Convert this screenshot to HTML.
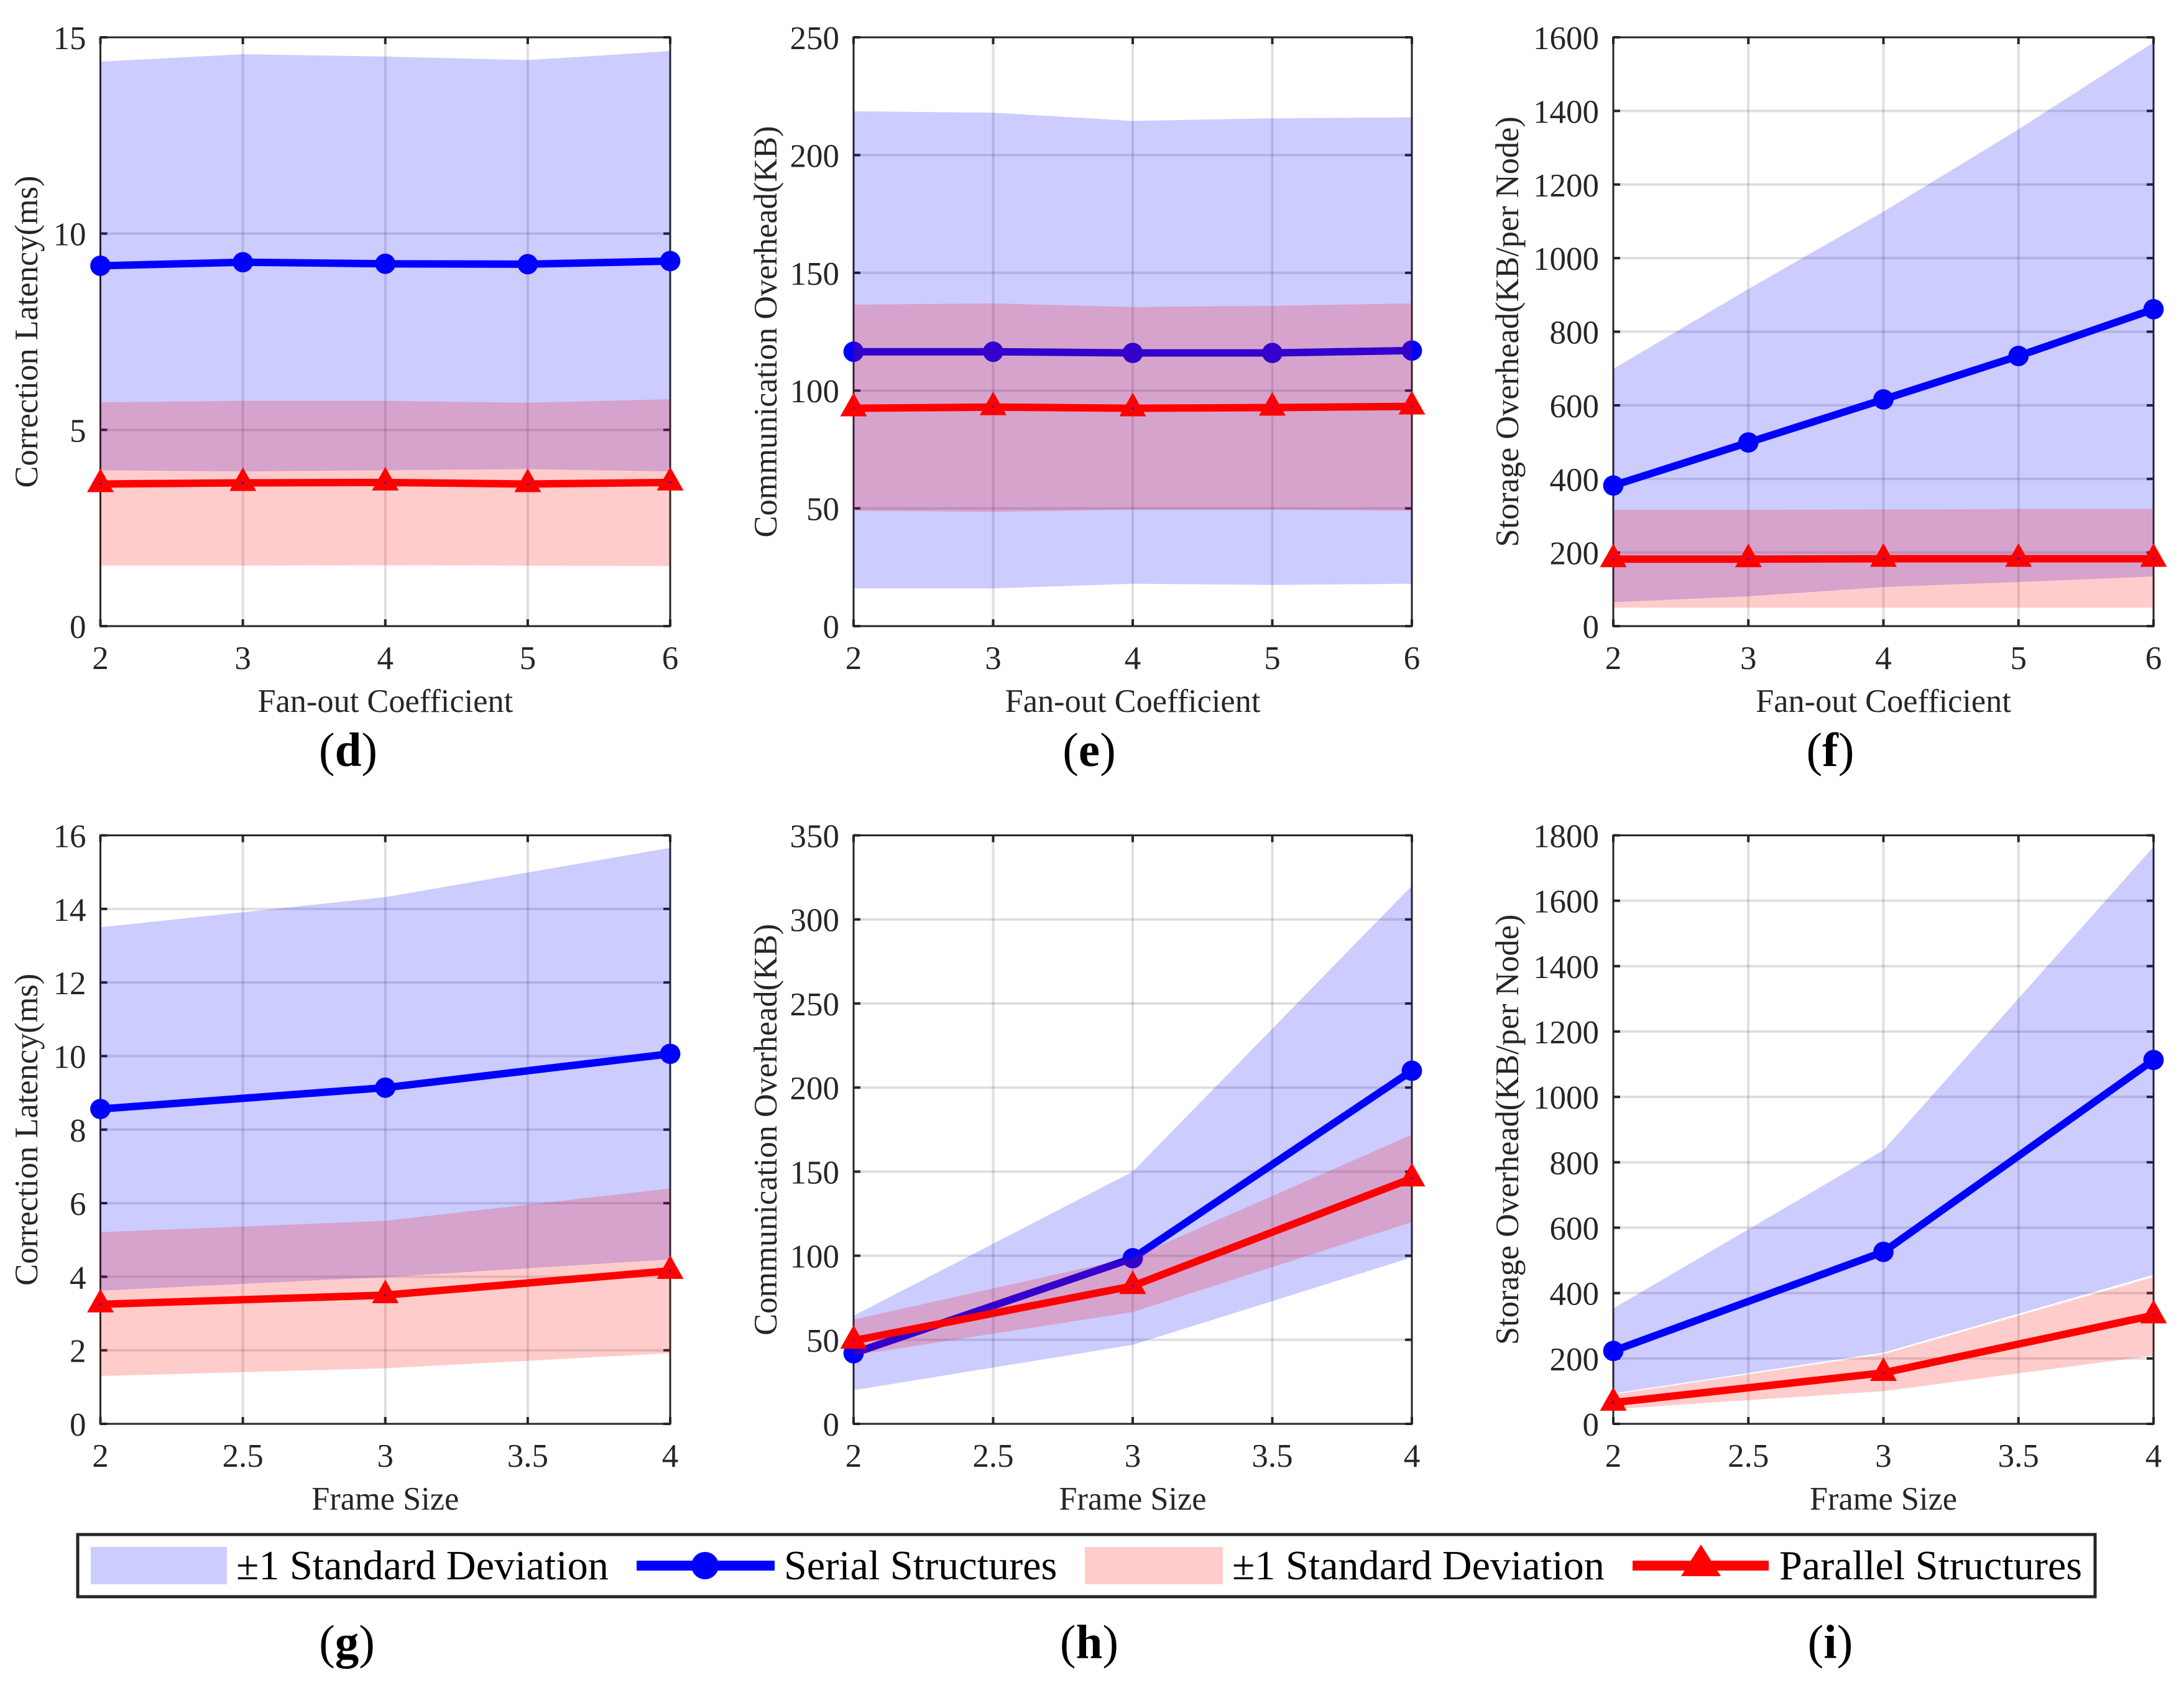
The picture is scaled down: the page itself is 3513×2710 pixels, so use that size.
<!DOCTYPE html>
<html lang="en">
<head>
<meta charset="utf-8">
<title>Serial vs Parallel Structures</title>
<style>
html,body{margin:0;padding:0;background:#fff;}
svg{display:block;font-family:"Liberation Serif",serif;}
</style>
</head>
<body>
<svg id="figure" xmlns="http://www.w3.org/2000/svg" width="3513" height="2710" viewBox="0 0 3513 2710">
<rect x="0" y="0" width="3513" height="2710" fill="#fff"/>
<g id="panels"></g>
<g font-size="77" fill="#000" text-anchor="middle">
<text x="560" y="1232">(<tspan font-weight="bold">d</tspan>)</text>
<text x="1752" y="1232">(<tspan font-weight="bold">e</tspan>)</text>
<text x="2944" y="1232">(<tspan font-weight="bold">f</tspan>)</text>
<text x="558" y="2667">(<tspan font-weight="bold">g</tspan>)</text>
<text x="1752" y="2667">(<tspan font-weight="bold">h</tspan>)</text>
<text x="2944" y="2667">(<tspan font-weight="bold">i</tspan>)</text>
</g>
<g>
<rect x="125" y="2468" width="3245" height="100" fill="#fff" stroke="#262626" stroke-width="5"/>
<rect x="146" y="2488" width="219" height="60" fill="#ccccff"/>
<text x="380" y="2540" font-size="66.2" fill="#000">±1 Standard Deviation</text>
<line x1="1024" y1="2518" x2="1246" y2="2518" stroke="#0000ff" stroke-width="16"/>
<circle cx="1134" cy="2518" r="22" fill="#0000ff"/>
<text x="1261" y="2540" font-size="66.2" fill="#000">Serial Structures</text>
<rect x="1745" y="2488" width="222" height="60" fill="#ffcccc"/>
<text x="1982" y="2540" font-size="66.2" fill="#000">±1 Standard Deviation</text>
<line x1="2626" y1="2518" x2="2845" y2="2518" stroke="#ff0000" stroke-width="16"/>
<polygon points="2736,2484 2768,2535 2704,2535" fill="#ff0000"/>
<text x="2862" y="2540" font-size="66.2" fill="#000">Parallel Structures</text>
</g>
</svg>
<script>
// ---------- chart data ----------
const fanoutCategories = [2, 3, 4, 5, 6];
const frameCategories = [2, 3, 4];
const fanoutXTicks = [2, 3, 4, 5, 6];
const frameXTicks = [2, 2.5, 3, 3.5, 4];

const dYTicks = [0, 5, 10, 15];
const dSerialMean = [9.18, 9.27, 9.23, 9.22, 9.30];
const dSerialUpper = [14.38, 14.57, 14.51, 14.42, 14.65];
const dSerialLower = [3.97, 3.94, 3.97, 4.00, 3.94];
const dParallelMean = [3.62, 3.65, 3.66, 3.62, 3.66];
const dParallelUpper = [5.70, 5.74, 5.74, 5.69, 5.78];
const dParallelLower = [1.54, 1.54, 1.55, 1.54, 1.53];

const eYTicks = [0, 50, 100, 150, 200, 250];
const eSerialMean = [116.5, 116.5, 116, 116, 117];
const eSerialUpper = [218.6, 218, 214.5, 215.6, 216];
const eSerialLower = [16, 16, 18, 17.5, 18];
const eParallelMean = [92.5, 93, 92.5, 92.8, 93.3];
const eParallelUpper = [136.5, 137, 135.5, 136, 137];
const eParallelLower = [49, 48.5, 49.5, 49.5, 49];

const fYTicks = [0, 200, 400, 600, 800, 1000, 1200, 1400, 1600];
const fSerialMean = [382, 499, 616, 734, 861];
const fSerialUpper = [699, 916, 1126, 1350, 1586];
const fSerialLower = [65, 81, 106, 120, 135];
const fParallelMean = [182, 182, 183, 183, 183];
const fParallelUpper = [316, 316, 317, 318, 318];
const fParallelLower = [50, 50, 50, 50, 50];

const gYTicks = [0, 2, 4, 6, 8, 10, 12, 14, 16];
const gSerialMean = [8.56, 9.14, 10.06];
const gSerialUpper = [13.5, 14.32, 15.66];
const gSerialLower = [3.62, 3.99, 4.47];
const gParallelMean = [3.25, 3.5, 4.16];
const gParallelUpper = [5.21, 5.52, 6.4];
const gParallelLower = [1.3, 1.51, 1.92];

const hYTicks = [0, 50, 100, 150, 200, 250, 300, 350];
const hSerialMean = [42, 98.5, 210];
const hSerialUpper = [64.3, 150, 320];
const hSerialLower = [20, 47, 99];
const hParallelMean = [49.5, 82, 146];
const hParallelUpper = [62, 99, 172];
const hParallelLower = [40.7, 66.5, 120];

const iYTicks = [0, 200, 400, 600, 800, 1000, 1200, 1400, 1600, 1800];
const iSerialMean = [223, 526, 1113];
const iSerialUpper = [353, 837, 1765];
const iSerialLower = [93, 218, 456];
const iParallelMean = [65, 156, 332];
const iParallelUpper = [90, 213, 449];
const iParallelLower = [45, 100, 209];

// ---------- rendering ----------
const SVGNS = 'http://www.w3.org/2000/svg';
const INK = '#262626';

function make(tag, attrs, parent) {
  const node = document.createElementNS(SVGNS, tag);
  for (const key in attrs) node.setAttribute(key, attrs[key]);
  parent.appendChild(node);
  return node;
}

function drawPanel(root, id, box, xLabel, yLabel, yLabelX, categories, xTicks, yTicks,
                   serialMean, serialUpper, serialLower, parallelMean, parallelUpper, parallelLower) {
  const xMin = xTicks[0], xMax = xTicks[xTicks.length - 1];
  const yMin = yTicks[0], yMax = yTicks[yTicks.length - 1];
  const xScale = v => box.left + (v - xMin) / (xMax - xMin) * (box.right - box.left);
  const yScale = v => box.bottom - (v - yMin) / (yMax - yMin) * (box.bottom - box.top);

  const g = make('g', {}, root);
  
  

  // grid lines
  yTicks.slice(1, -1).forEach(t => {
    const el = make('line', {x1: box.left, x2: box.right, y1: yScale(t), y2: yScale(t), stroke: INK, 'stroke-opacity': 0.15, 'stroke-width': 4}, g);
    
    
  });
  xTicks.slice(1, -1).forEach(t => {
    const el = make('line', {x1: xScale(t), x2: xScale(t), y1: box.top, y2: box.bottom, stroke: INK, 'stroke-opacity': 0.15, 'stroke-width': 4}, g);
    
    
  });

  // axes box and ticks
  const frame = make('rect', {x: box.left, y: box.top, width: box.right - box.left, height: box.bottom - box.top, fill: 'none', stroke: INK, 'stroke-width': 3}, g);
  
  

  yTicks.forEach(t => {
    const y = yScale(t);
    const left = make('line', {x1: box.left, x2: box.left + 11, y1: y, y2: y, stroke: INK, 'stroke-width': 4}, g);
    
    
    const right = make('line', {x1: box.right - 11, x2: box.right, y1: y, y2: y, stroke: INK, 'stroke-width': 4}, g);
    
    
    const label = make('text', {x: box.left - 23, y: y + 19, 'text-anchor': 'end', 'font-size': 53, fill: INK}, g);
    
    
    label.textContent = String(t);
  });
  xTicks.forEach(t => {
    const x = xScale(t);
    const bottom = make('line', {x1: x, x2: x, y1: box.bottom - 11, y2: box.bottom, stroke: INK, 'stroke-width': 4}, g);
    
    
    const top = make('line', {x1: x, x2: x, y1: box.top, y2: box.top + 11, stroke: INK, 'stroke-width': 4}, g);
    
    
    const label = make('text', {x: x, y: box.bottom + 69, 'text-anchor': 'middle', 'font-size': 53, fill: INK}, g);
    
    
    label.textContent = String(t);
  });

  // axis titles
  const xt = make('text', {x: (box.left + box.right) / 2, y: box.bottom + 138, 'text-anchor': 'middle', 'font-size': 52.4, fill: INK}, g);
  
  
  xt.textContent = xLabel;
  const yMid = (box.top + box.bottom) / 2;
  const yt = make('text', {x: yLabelX, y: yMid, 'text-anchor': 'middle', 'font-size': 52.4, fill: INK, transform: 'rotate(-90 ' + yLabelX + ' ' + yMid + ')'}, g);
  
  
  yt.textContent = yLabel;

  const bandPoints = (upper, lower) => {
    const top = categories.map((c, i) => xScale(c) + ',' + yScale(upper[i]));
    const bot = categories.map((c, i) => xScale(c) + ',' + yScale(lower[i])).reverse();
    return top.concat(bot).join(' ');
  };
  const linePoints = values => categories.map((c, i) => xScale(c) + ',' + yScale(values[i])).join(' ');

  // serial series
  const sb = make('polygon', {points: bandPoints(serialUpper, serialLower), fill: '#0000ff', 'fill-opacity': 0.2}, g);
  
  
  const sl = make('polyline', {points: linePoints(serialMean), fill: 'none', stroke: '#0000ff', 'stroke-width': 12, 'stroke-linejoin': 'round'}, g);
  
  
  categories.forEach((c, i) => {
    const m = make('circle', {cx: xScale(c), cy: yScale(serialMean[i]), r: 16.4, fill: '#0000ff'}, g);
    
    
  });

  // parallel series (drawn over serial, as in the reference)
  const pb = make('polygon', {points: bandPoints(parallelUpper, parallelLower), fill: '#ff0000', 'fill-opacity': 0.2}, g);
  
  
  const pl = make('polyline', {points: linePoints(parallelMean), fill: 'none', stroke: '#ff0000', 'stroke-width': 12, 'stroke-linejoin': 'round'}, g);
  
  
  categories.forEach((c, i) => {
    const px = xScale(c), py = yScale(parallelMean[i]);
    const m = make('polygon', {points: px + ',' + (py - 25) + ' ' + (px + 21.5) + ',' + (py + 13) + ' ' + (px - 21.5) + ',' + (py + 13), fill: '#ff0000'}, g);
    
    
    const dot = make('circle', {cx: px, cy: py, r: 1.5, fill: '#0000ff'}, g);
    
    
  });
}

const panelRoot = document.getElementById('panels');
const fanoutTitle = 'Fan-out Coefficient';
const frameTitle = 'Frame Size';
const latencyTitle = 'Correction Latency(ms)';
const commTitle = 'Communication Overhead(KB)';
const storageTitle = 'Storage Overhead(KB/per Node)';

const topRow = {top: 60, bottom: 1007};
const bottomRow = {top: 1343.5, bottom: 2290};

drawPanel(panelRoot, 'd', {left: 161.5, right: 1078, top: topRow.top, bottom: topRow.bottom}, fanoutTitle, latencyTitle, 60, fanoutCategories, fanoutXTicks, dYTicks,
  dSerialMean, dSerialUpper, dSerialLower, dParallelMean, dParallelUpper, dParallelLower);
drawPanel(panelRoot, 'e', {left: 1373, right: 2271, top: topRow.top, bottom: topRow.bottom}, fanoutTitle, commTitle, 1249, fanoutCategories, fanoutXTicks, eYTicks,
  eSerialMean, eSerialUpper, eSerialLower, eParallelMean, eParallelUpper, eParallelLower);
drawPanel(panelRoot, 'f', {left: 2595, right: 3464, top: topRow.top, bottom: topRow.bottom}, fanoutTitle, storageTitle, 2442, fanoutCategories, fanoutXTicks, fYTicks,
  fSerialMean, fSerialUpper, fSerialLower, fParallelMean, fParallelUpper, fParallelLower);
drawPanel(panelRoot, 'g', {left: 161.5, right: 1078, top: bottomRow.top, bottom: bottomRow.bottom}, frameTitle, latencyTitle, 60, frameCategories, frameXTicks, gYTicks,
  gSerialMean, gSerialUpper, gSerialLower, gParallelMean, gParallelUpper, gParallelLower);
drawPanel(panelRoot, 'h', {left: 1373, right: 2271, top: bottomRow.top, bottom: bottomRow.bottom}, frameTitle, commTitle, 1249, frameCategories, frameXTicks, hYTicks,
  hSerialMean, hSerialUpper, hSerialLower, hParallelMean, hParallelUpper, hParallelLower);
drawPanel(panelRoot, 'i', {left: 2595, right: 3464, top: bottomRow.top, bottom: bottomRow.bottom}, frameTitle, storageTitle, 2442, frameCategories, frameXTicks, iYTicks,
  iSerialMean, iSerialUpper, iSerialLower, iParallelMean, iParallelUpper, iParallelLower);
</script>
</body>
</html>
